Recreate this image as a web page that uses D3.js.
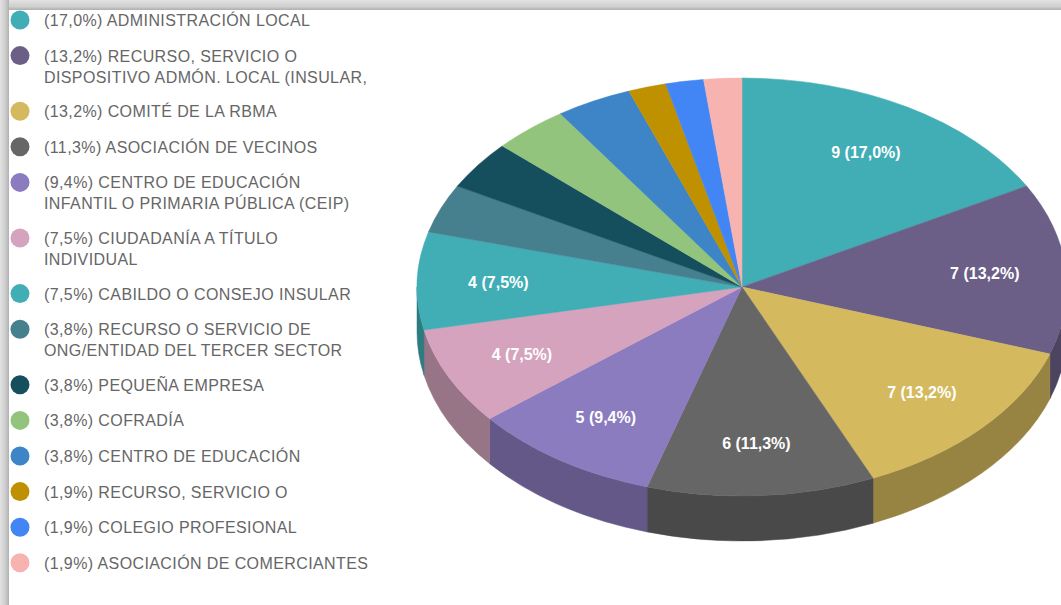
<!DOCTYPE html>
<meta charset="utf-8">
<style>
  body { margin: 0; background: #fff; }
  svg { display: block; }
</style>
<body>
<script src="https://cdn.jsdelivr.net/npm/d3@7"></script>
<script>

    var width = 1061,
        height = 605;

    // datos de la gráfica ("|" separa las líneas de la leyenda)
    var categories = [
        "ADMINISTRACIÓN LOCAL",
        "RECURSO, SERVICIO O|DISPOSITIVO ADMÓN. LOCAL (INSULAR,",
        "COMITÉ DE LA RBMA",
        "ASOCIACIÓN DE VECINOS",
        "CENTRO DE EDUCACIÓN|INFANTIL O PRIMARIA PÚBLICA (CEIP)",
        "CIUDADANÍA A TÍTULO|INDIVIDUAL",
        "CABILDO O CONSEJO INSULAR",
        "RECURSO O SERVICIO DE|ONG/ENTIDAD DEL TERCER SECTOR",
        "PEQUEÑA EMPRESA",
        "COFRADÍA",
        "CENTRO DE EDUCACIÓN",
        "RECURSO, SERVICIO O",
        "COLEGIO PROFESIONAL",
        "ASOCIACIÓN DE COMERCIANTES"
    ];
    var values = [9, 7, 7, 6, 5, 4, 4, 2, 2, 2, 2, 1, 1, 1];
    var colors = ["#41adb5", "#6b5f88", "#d4b95e", "#666666", "#8b7bbf", "#d5a3bd", "#41adb5",
                  "#467f8e", "#154e5d", "#93c47d", "#3d85c6", "#bf9000", "#4285f4", "#f7b3af"];

    var total = d3.sum(values);
    function pct(v) {
        return (v / total * 100).toFixed(1).replace(".", ",") + "%";
    }

    var svg = d3.select("body").append("svg")
            .attr("width", width)
            .attr("height", height)
            .style("font-family", "Arial, 'Liberation Sans', sans-serif");

    // marco con sombra arriba y a la izquierda
    var defs = svg.append("defs");
    var gTop = defs.append("linearGradient").attr("id", "gTop")
            .attr("x1", 0).attr("y1", 0).attr("x2", 0).attr("y2", 1);
    gTop.append("stop").attr("offset", "0%").attr("stop-color", "#e2e2e2");
    gTop.append("stop").attr("offset", "65%").attr("stop-color", "#cfcfcf");
    gTop.append("stop").attr("offset", "100%").attr("stop-color", "#aeaeae");
    var gLeft = defs.append("linearGradient").attr("id", "gLeft")
            .attr("x1", 0).attr("y1", 0).attr("x2", 1).attr("y2", 0);
    gLeft.append("stop").attr("offset", "0%").attr("stop-color", "#e2e2e2");
    gLeft.append("stop").attr("offset", "60%").attr("stop-color", "#cdcdcd");
    gLeft.append("stop").attr("offset", "100%").attr("stop-color", "#b0b0b0");

    svg.append("rect").attr("x", 0).attr("y", 0).attr("width", width).attr("height", 10)
            .attr("fill", "url(#gTop)");
    svg.append("rect").attr("x", 0).attr("y", 0).attr("width", 9).attr("height", height)
            .attr("fill", "url(#gLeft)");

    // tarta 3D
    var cx = 742, cy = 287, rx = 325, ry = 209, depth = 45;

    var arcs = d3.pie().sort(null).value(function(d) { return d; })(values);

    function pt(a, dy) {
        return [cx + rx * Math.sin(a), cy - ry * Math.cos(a) + (dy || 0)];
    }

    var pie = svg.append("g");

    // paredes laterales (solo la mitad delantera)
    arcs.forEach(function(d, i) {
        var a0 = Math.max(d.startAngle, Math.PI / 2),
            a1 = Math.min(d.endAngle, 3 * Math.PI / 2);
        if (a1 <= a0) return;
        var p0 = pt(a0), p1 = pt(a1), q1 = pt(a1, depth), q0 = pt(a0, depth);
        var path = "M" + p0 + "A" + rx + "," + ry + " 0 0 1 " + p1 +
                "L" + q1 + "A" + rx + "," + ry + " 0 0 0 " + q0 + "Z";
        pie.append("path")
                .attr("d", path)
                .attr("fill", d3.color(colors[i]).darker(0.95))
                .attr("stroke", d3.color(colors[i]).darker(0.95))
                .attr("stroke-width", 0.5);
    });

    // cara superior
    arcs.forEach(function(d, i) {
        var p0 = pt(d.startAngle), p1 = pt(d.endAngle);
        var large = d.endAngle - d.startAngle > Math.PI ? 1 : 0;
        pie.append("path")
                .attr("d", "M" + cx + "," + cy + "L" + p0 + "A" + rx + "," + ry + " 0 " + large + " 1 " + p1 + "Z")
                .attr("fill", colors[i])
                .attr("stroke", colors[i])
                .attr("stroke-width", 0.5);
    });

    // etiquetas de las porciones
    arcs.forEach(function(d, i) {
        if (d.endAngle - d.startAngle < 20 * Math.PI / 180) return;
        var m = (d.startAngle + d.endAngle) / 2;
        var x = cx + rx * 0.75 * Math.sin(m),
            y = cy - ry * 0.75 * Math.cos(m);
        pie.append("text")
                .attr("x", x)
                .attr("y", y)
                .attr("text-anchor", "middle")
                .attr("dominant-baseline", "central")
                .attr("fill", "#fff")
                .attr("font-weight", "bold")
                .attr("font-size", 16)
                .text(d.data + " (" + pct(d.data) + ")");
    });

    // leyenda
    var legend = svg.append("g");
    var ly = 20;
    categories.forEach(function(c, i) {
        var lines = c.split("|");
        lines[0] = "(" + pct(values[i]) + ") " + lines[0];
        legend.append("circle")
                .attr("cx", 20)
                .attr("cy", ly)
                .attr("r", 9.5)
                .attr("fill", colors[i]);
        var t = legend.append("text")
                .attr("x", 44)
                .attr("y", ly)
                .attr("fill", "#666")
                .attr("font-size", 16)
                .attr("letter-spacing", 0.4)
                .attr("dominant-baseline", "central");
        lines.forEach(function(l, j) {
            t.append("tspan").attr("x", 44).attr("dy", j === 0 ? 0 : 21).text(l);
        });
        ly += 35.6 + 20 * (lines.length - 1);
    });

</script>
